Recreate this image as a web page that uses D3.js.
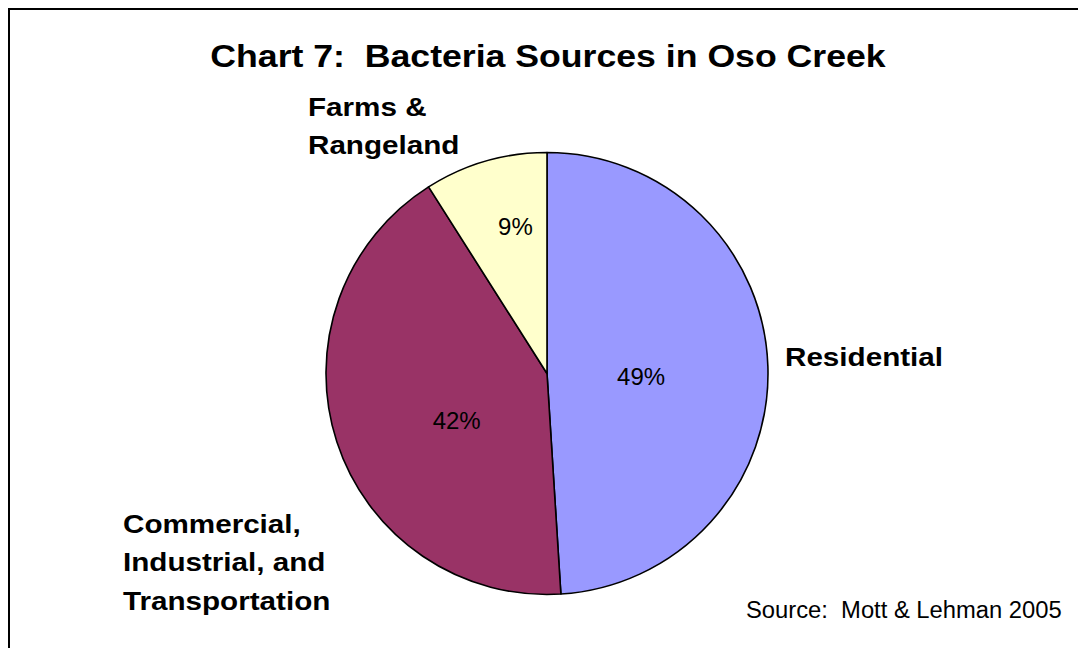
<!DOCTYPE html>
<meta charset="utf-8">
<style>
    body {
        margin: 0;
        background: #fff;
    }

    svg {
        display: block;
        font-family: "Liberation Sans", Arial, sans-serif;
    }

    .title {
        font-size: 31px;
        font-weight: bold;
        white-space: pre;
    }

    .cat-label {
        font-size: 26px;
        font-weight: bold;
    }

    .pct-label {
        font-size: 24px;
    }

    .source {
        font-size: 23px;
        white-space: pre;
    }
</style>
<body>
<script src="https://cdn.jsdelivr.net/npm/d3@7"></script>
<script>
    // data
    const categories = ["Residential", "Commercial, Industrial, and Transportation", "Farms & Rangeland"];
    const shares = [49, 42, 9];
    const labelLines = [
        ["Residential"],
        ["Commercial,", "Industrial, and", "Transportation"],
        ["Farms &", "Rangeland"]
    ];
    const sliceColors = ["#9999FF", "#993366", "#FFFFCC"];

    const titleText = "Chart 7:  Bacteria Sources in Oso Creek";
    const sourceText = "Source:  Mott & Lehman 2005";

    // layout
    const width = 1078;
    const height = 648;
    const cx = 547, cy = 373.5, radius = 221;
    // the original text is rendered a bit wider than the font's own metrics
    const boldStretch = 1.14;
    const titleStretch = 1.15;
    const sourceStretch = 1.034;
    // first-line baseline of each category label (left aligned)
    const labelPos = [
        {x: 785, y: 366},
        {x: 123, y: 533},
        {x: 308, y: 116}
    ];
    const lineStep = 38.5;
    // small shifts of the percentage labels from the sector centroid
    const pctNudge = [[-1.5, 5.5], [12.5, 13.5], [9, -7.5]];

    const svg = d3.select('body')
        .append('svg')
        .attr('width', width)
        .attr('height', height);

    // frame (right and bottom edges fall outside the picture)
    svg.append('rect')
        .attr('x', 9)
        .attr('y', 9)
        .attr('width', width + 20)
        .attr('height', height + 20)
        .style('fill', 'none')
        .style('stroke', '#000')
        .style('stroke-width', 2);

    svg.append('text')
        .attr('class', 'title')
        .attr('transform', `translate(${cx + 1},67) scale(${titleStretch},1)`)
        .attr('text-anchor', 'middle')
        .text(titleText);

    const pie = d3.pie()
        .sort(null)
        .value(d => d);

    const arcs = pie(shares);

    const arc = d3.arc()
        .innerRadius(0)
        .outerRadius(radius);

    const g = svg.append('g')
        .attr('transform', `translate(${cx},${cy})`);

    g.selectAll('path')
        .data(arcs)
        .enter().append('path')
        .attr('d', arc)
        .style('fill', (d, i) => sliceColors[i])
        .style('stroke', '#000')
        .style('stroke-width', 1.6)
        .style('stroke-linejoin', 'round');

    // percentage labels sit near the area centroid of each sector
    function sectorCentroid(d) {
        const a = d.endAngle - d.startAngle;
        const mid = (d.startAngle + d.endAngle) / 2;
        const dist = 4 * radius * Math.sin(a / 2) / (3 * a);
        return [dist * Math.sin(mid), -dist * Math.cos(mid)];
    }

    const total = d3.sum(shares);

    g.selectAll('.pct-label')
        .data(arcs)
        .enter().append('text')
        .attr('class', 'pct-label')
        .attr('x', (d, i) => sectorCentroid(d)[0] + pctNudge[i][0])
        .attr('y', (d, i) => sectorCentroid(d)[1] + pctNudge[i][1])
        .attr('dy', '0.358em')
        .attr('text-anchor', 'middle')
        .text(d => Math.round(d.value / total * 100) + '%');

    // category labels outside the pie
    const labels = svg.selectAll('.cat-label')
        .data(categories)
        .enter().append('text')
        .attr('class', 'cat-label')
        .attr('transform', (d, i) => `translate(${labelPos[i].x},${labelPos[i].y}) scale(${boldStretch},1)`);

    labels.selectAll('tspan')
        .data((d, i) => labelLines[i])
        .enter().append('tspan')
        .attr('x', 0)
        .attr('dy', (d, j) => j === 0 ? 0 : lineStep)
        .text(d => d);

    svg.append('text')
        .attr('class', 'source')
        .attr('transform', `translate(746,618) scale(${sourceStretch},1)`)
        .text(sourceText);
</script>
</body>
</html>
